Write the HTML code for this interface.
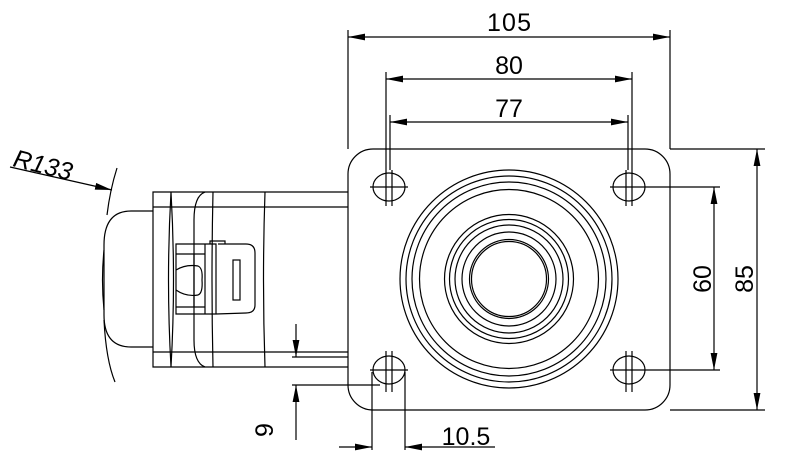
<!DOCTYPE html>
<html><head><style>html,body{margin:0;padding:0;background:#fff}svg{display:block}</style></head><body>
<svg width="786" height="468" viewBox="0 0 786 468" xmlns="http://www.w3.org/2000/svg" fill="none" stroke="#000" stroke-width="1.2">
<defs><marker id="a" viewBox="0 0 10 4" refX="10" refY="2" markerWidth="17" markerHeight="7" markerUnits="userSpaceOnUse" orient="auto"><path d="M0,0L10,2L0,4z" fill="#000" stroke="none"/></marker></defs>
<g font-family="Liberation Sans, sans-serif" font-size="25" fill="#000" stroke="none">
<text x="509" y="31" text-anchor="middle" textLength="44">105</text>
<text x="509" y="74" text-anchor="middle">80</text>
<text x="509" y="117" text-anchor="middle">77</text>
<text x="466" y="445" text-anchor="middle">10.5</text>
<text transform="translate(711,279) rotate(-90)" text-anchor="middle">60</text>
<text transform="translate(753,279) rotate(-90)" text-anchor="middle">85</text>
<text transform="translate(273,430) rotate(-90)" text-anchor="middle">9</text>
<text transform="translate(12,166) rotate(14)" font-style="italic">R133</text>
</g>
<!-- plate -->
<rect x="348" y="149" width="322" height="261" rx="25"/>
<g>
<circle cx="509" cy="279" r="109"/><circle cx="509" cy="279" r="103"/><circle cx="509" cy="279" r="97"/><circle cx="509" cy="279" r="89.5"/>
<circle cx="509" cy="279" r="64.5"/><circle cx="509" cy="279" r="59.5"/><circle cx="509" cy="279" r="54"/><circle cx="509" cy="279" r="47"/>
<circle cx="509" cy="279" r="39.5"/><circle cx="509" cy="279" r="37.5"/>
</g>
<g>
<ellipse cx="389" cy="187" rx="16" ry="14"/><ellipse cx="629" cy="187" rx="16" ry="14"/>
<ellipse cx="389" cy="370" rx="16" ry="14"/><ellipse cx="629" cy="370" rx="16" ry="14"/>
<path d="M370 187H408M610 187H720M370 370H408M610 370H720M386 170V206M392 170V206M626 170V206M632 170V206M386 351V392M392 351V392M626 351V392M632 351V392"/>
</g>
<!-- top dims -->
<path d="M348 30V149M670 30V149M386 72V170M632 72V170M390 115V170M628 115V170"/>
<path d="M509 37H348" marker-end="url(#a)"/>
<path d="M509 37H670" marker-end="url(#a)"/>
<path d="M509 79H386" marker-end="url(#a)"/>
<path d="M509 79H632" marker-end="url(#a)"/>
<path d="M509 122H390" marker-end="url(#a)"/>
<path d="M509 122H628" marker-end="url(#a)"/>
<!-- right dims -->
<path d="M670 149H765M670 410H765"/>
<path d="M757 279V149" marker-end="url(#a)"/>
<path d="M757 279V410" marker-end="url(#a)"/>
<path d="M714 279V187" marker-end="url(#a)"/>
<path d="M714 279V370" marker-end="url(#a)"/>
<!-- body -->
<path d="M348 192H153V367H348M153 207H348M153 352H348"/>
<path d="M171 192Q166 280 171 367M171 192Q176 280 171 367"/>
<path d="M205 192Q194 196 194 220V340Q194 363 205 367M213 192Q211 280 213 367M265 192Q262 280 265 367"/>
<path d="M153 211H131Q104 211 104 245V315Q104 347 131 347H153"/>
<path d="M104 250Q101 280 104 310"/>
<!-- latch -->
<path d="M176 244H205V314H176ZM176 254H205M176 307H205M194 254V307M205 244H216V314H205M210 244V241H225V244M218 244H246Q255 244 255 253V305Q255 313 246 313L216 314"/>
<path d="M176 270Q186 264 198 266Q203 268 202 280Q203 293 198 295Q186 297 176 290"/>
<rect x="233" y="260" width="7" height="40"/>
<!-- R133 -->
<path d="M117 168Q110 190 107 215M104 320Q106 360 115 382"/>
<path d="M10 167L112 190" marker-end="url(#a)"/>
<!-- dim 9 -->
<path d="M292 357H348M292 385H380"/>
<path d="M296 324V357" marker-end="url(#a)"/>
<path d="M296 440V385" marker-end="url(#a)"/>
<!-- dim 10.5 -->
<path d="M372 372V450M405 372V450"/>
<path d="M339 447H372" marker-end="url(#a)"/>
<path d="M495 447H405" marker-end="url(#a)"/>
</svg>
</body></html>
